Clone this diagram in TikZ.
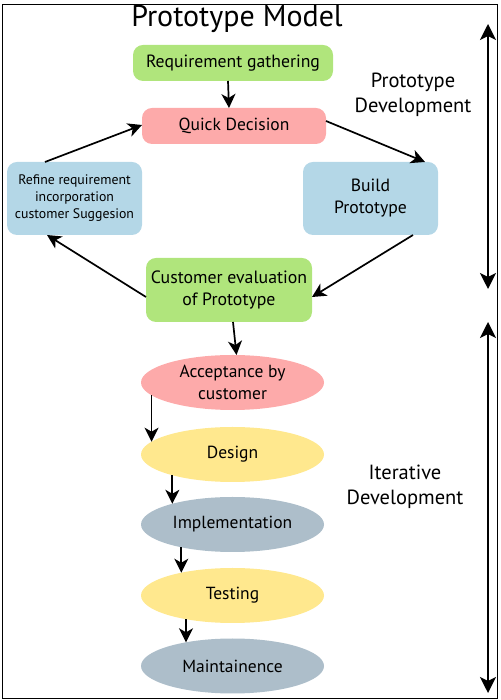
\documentclass[tikz,border=0pt]{standalone}
\usepackage{fontspec}
\setmainfont{PT Sans}
\usetikzlibrary{arrows.meta,shapes.geometric}
\definecolor{cgreen}{HTML}{B0E57C}
\definecolor{cpink}{HTML}{FDAAAA}
\definecolor{cblue}{HTML}{B4D7E7}
\definecolor{cyellow}{HTML}{FFE88E}
\definecolor{cgray}{HTML}{ADBECA}
\newcommand{\fs}[2]{\fontsize{#1}{#2}\selectfont}
\tikzset{
  box/.style={rectangle, rounded corners=10pt, inner sep=0pt, outer sep=0pt, align=center},
  ell/.style={ellipse, minimum width=183pt, minimum height=55pt, inner sep=0pt, outer sep=0pt, align=center, font=\fs{17.5}{22}},
  arr/.style={line width=1.7pt, -{Stealth[length=14pt,width=14pt,inset=4pt]}},
  dbl/.style={line width=2pt, {Stealth[length=16pt,width=16pt,inset=4pt]}-{Stealth[length=16pt,width=16pt,inset=4pt]}},
  side/.style={align=center, font=\fs{20.5}{25}}
}
\begin{document}
\begin{tikzpicture}[x=1pt,y=1pt]
\useasboundingbox (0,0) rectangle (500,700);
\draw[line width=1pt] (2.5,1.5) rectangle (497.5,695.5);
\node[font=\fs{30}{36}] (title) at (237,681) {Prototype Model};
\node[box, fill=cgreen, minimum width=200pt, minimum height=36pt, font=\fs{17.7}{22}] (req) at (233,637) {Requirement gathering};
\node[box, fill=cpink, minimum width=184pt, minimum height=36pt, font=\fs{17.5}{22}] (quick) at (234,574) {Quick Decision};
\node[box, fill=cblue, minimum width=135pt, minimum height=73pt, font=\fs{13.8}{17}] (refine) at (74.5,501.5) {Refine requirement\\incorporation\\customer Suggesion};
\node[box, fill=cblue, minimum width=135pt, minimum height=73pt, font=\fs{17.7}{22}] (build) at (370.5,501.5) {Build\\Prototype};
\node[box, fill=cgreen, minimum width=166pt, minimum height=64pt, font=\fs{17.8}{22}] (cust) at (229,410) {Customer evaluation\\of Prototype};
\node[ell, fill=cpink] (acc) at (232.5,317.5) {Acceptance by\\customer};
\node[ell, fill=cyellow] (des) at (232.5,245.5) {Design};
\node[ell, fill=cgray] (imp) at (232.5,175.5) {Implementation};
\node[ell, fill=cyellow] (test) at (232.5,104.5) {Testing};
\node[ell, fill=cgray] (maint) at (232.5,34) {Maintainence};
\node[side] (pd) at (413,605) {Prototype\\Development};
\node[side] (id) at (405,213) {Iterative\\Development};
\coordinate (a1) at (488,676);
\coordinate (a2) at (488,411);
\coordinate (b1) at (488,378);
\coordinate (b2) at (488,7);
\draw[arr] ([xshift=-5pt]req.south) -- ([xshift=-5pt]quick.north);
\draw[arr] ([xshift=-29.5pt]refine.north) -- ([yshift=1pt]quick.west);
\draw[arr] ([yshift=5pt]quick.east) -- ([xshift=54.5pt]build.north);
\draw[arr] ([xshift=42.5pt]build.south) -- ([yshift=-7pt]cust.east);
\draw[arr] ([yshift=-7pt]cust.west) -- ([xshift=-27.5pt]refine.south);
\draw[arr] ([xshift=4pt]cust.south) -- ([xshift=4pt]acc.north);
\draw[arr] (acc.189) -- (des.171);
\draw[arr] (des.199) -- (imp.161);
\draw[arr] (imp.204) -- (test.156);
\draw[arr] (test.207) -- (maint.153);
\draw[dbl] (a1) -- (a2);
\draw[dbl] (b1) -- (b2);
\end{tikzpicture}
\end{document}
